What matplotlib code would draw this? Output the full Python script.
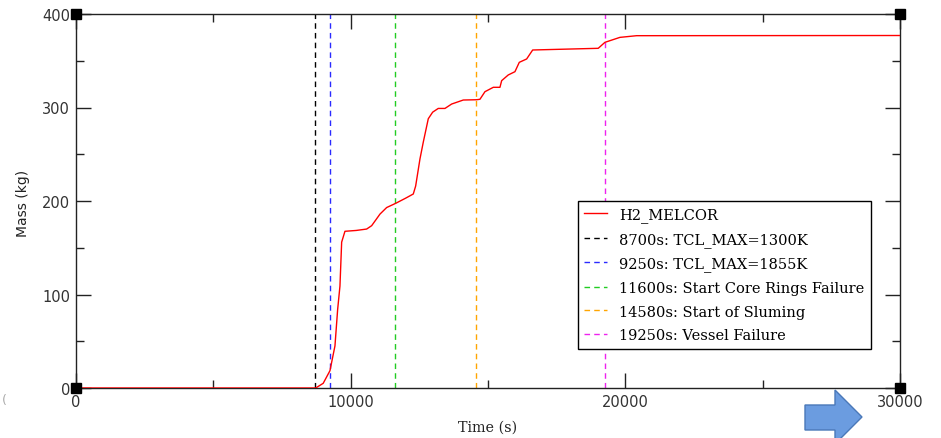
import matplotlib
matplotlib.use("Agg")
import matplotlib.pyplot as plt
from matplotlib.patches import Polygon
from matplotlib.ticker import MultipleLocator

# ---- data ----
time_s = [0, 8726, 9000, 9246, 9428, 9526, 9610, 9672, 9792, 10200, 10582, 10764, 10921,
          11067, 11310, 11638, 12000, 12280, 12366, 12523, 12644, 12826, 12985, 13189,
          13433, 13676, 14100, 14586, 14707, 14889, 15193, 15435, 15497, 15737, 15981,
          16139, 16407, 16626, 17012, 19013, 19257, 19803, 20411, 30000]
h2_mass = [0, 0, 5, 18.5, 45, 84, 109, 156, 167.6, 168.5, 170, 173.6, 180,
           186, 193, 197.5, 203, 207.5, 216, 245, 263, 288, 295, 299,
           299, 303.7, 308, 308.3, 308.8, 316.9, 321.6, 321.6, 328.7, 334.8, 338.3,
           348.3, 351.9, 361.5, 361.8, 363.3, 369.7, 375, 376.8, 377]
event_times = [8700, 9250, 11600, 14580, 19250]
event_labels = ["8700s: TCL_MAX=1300K", "9250s: TCL_MAX=1855K",
                "11600s: Start Core Rings Failure", "14580s: Start of Sluming",
                "19250s: Vessel Failure"]
event_colors = ["black", "#2a2aff", "#22cc22", "orange", "#ee22ee"]
series_label = "H2_MELCOR"

W, H = 941, 439
fig = plt.figure(figsize=(W / 100, H / 100), dpi=100)
ax = fig.add_axes([76 / W, 1 - 389 / H, (900 - 76) / W, (389 - 15) / H])

ax.plot(time_s, h2_mass, color="red", lw=1.0, label=series_label, zorder=3)
for t, lab, c in zip(event_times, event_labels, event_colors):
    ax.axvline(t, color=c, lw=1, linestyle=(0, (4, 3)), label=lab, zorder=2)

ax.set_xlim(0, 30000)
ax.set_ylim(0, 400)
ax.xaxis.set_major_locator(MultipleLocator(10000))
ax.xaxis.set_minor_locator(MultipleLocator(5000))
ax.yaxis.set_major_locator(MultipleLocator(100))
ax.yaxis.set_minor_locator(MultipleLocator(50))
ax.tick_params(which="both", direction="in", top=True, right=True, width=1, color="#222222")
ax.tick_params(which="major", length=11, labelsize=10.5, labelcolor="#333333", pad=4.3)
ax.tick_params(which="minor", length=6)
for s in ax.spines.values():
    s.set_color("#222222")
    s.set_linewidth(1)

ax.set_xlabel("Time (s)", family="DejaVu Serif", fontsize=10.4, color="#222222")
ax.set_ylabel("Mass (kg)", family="DejaVu Sans", fontsize=10, color="#222222")
ax.xaxis.set_label_coords(0.4994, -0.084)
ax.yaxis.set_label_coords(-0.0555, 0.497)

# corner squares
ax.plot([0, 0, 30000, 30000], [0, 400, 0, 400], ls="none", marker="s", ms=7.5,
        color="black", clip_on=False, zorder=5)

leg = ax.legend(loc="upper left", bbox_to_anchor=(0.609, 0.501), borderaxespad=0,
                prop={"family": "DejaVu Serif", "size": 10.55}, fancybox=False,
                edgecolor="black", framealpha=1, handlelength=1.55, labelspacing=0.66,
                borderpad=0.45, handletextpad=0.8)
leg.get_frame().set_linewidth(1)

# decorative arrow
pts = [(805, 406), (835, 406), (835, 391), (862, 418), (835, 445), (835, 431), (805, 431)]
arrow = Polygon([(x / W, 1 - y / H) for x, y in pts], closed=True,
                transform=fig.transFigure, facecolor="#6b9ce0", edgecolor="#4a78b8",
                lw=1, clip_on=False)
fig.patches.append(arrow)
fig.text(2 / W, 1 - 401 / H, "(", color="#aaaaaa", fontsize=9, va="center")

fig.savefig("out.png", dpi=100)
